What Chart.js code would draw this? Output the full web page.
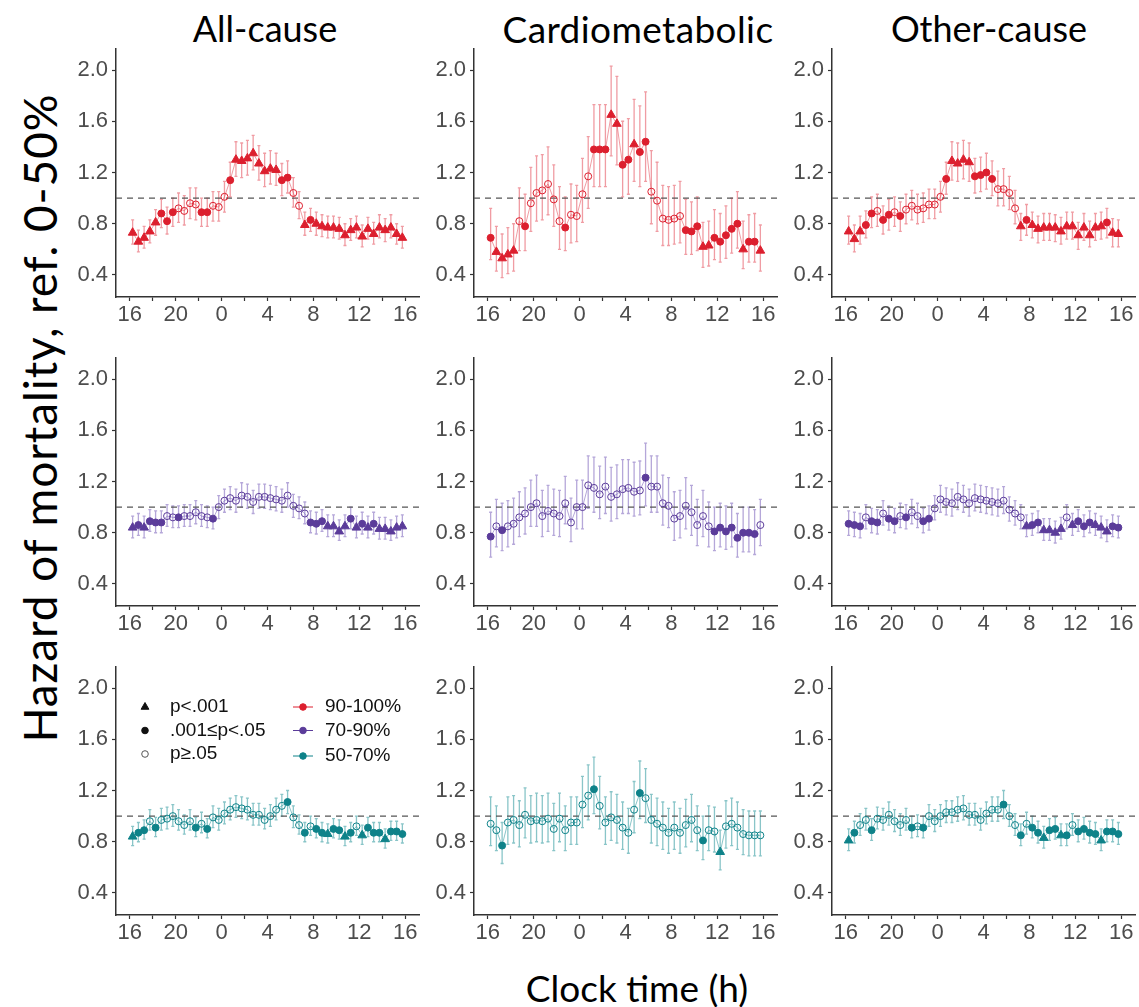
<!DOCTYPE html>
<html>
<head>
<meta charset="utf-8">
<script src="https://cdn.jsdelivr.net/npm/chart.js@4.4.0/dist/chart.umd.min.js"></script>
<style>
body{margin:0;background:#fff;}
#fig{position:relative;width:1139px;height:1007px;overflow:hidden;font-family:Lato,"Open Sans",sans-serif;}
#fig canvas{position:absolute;}
.ttl{position:absolute;color:#000;white-space:nowrap;transform:translate(-50%,-50%);}
</style>
</head>
<body>
<div id="fig">
  <div class="ttl" style="left:265px;top:28px;font-size:36px">All-cause</div>
  <div class="ttl" style="left:638px;top:28px;font-size:37px;letter-spacing:0.4px">Cardiometabolic</div>
  <div class="ttl" style="left:989px;top:28px;font-size:36px">Other-cause</div>
  <div class="ttl" style="left:637px;top:987px;font-size:37px">Clock time (h)</div>
  <div class="ttl" style="left:39px;top:418px;font-size:46px;letter-spacing:0.9px;transform:translate(-50%,-50%) rotate(-90deg)">Hazard of mortality, ref. 0-50%</div>
</div>
<script>
// half-hour bins, hours counted from midnight of the first day (16:15 ... 15:45 next day)
const hours = [16.25,16.75,17.25,17.75,18.25,18.75,19.25,19.75,20.25,20.75,21.25,21.75,
  22.25,22.75,23.25,23.75,24.25,24.75,25.25,25.75,26.25,26.75,27.25,27.75,
  28.25,28.75,29.25,29.75,30.25,30.75,31.25,31.75,32.25,32.75,33.25,33.75,
  34.25,34.75,35.25,35.75,36.25,36.75,37.25,37.75,38.25,38.75,39.25,39.75];
const hourTicks = [16,18,20,22,24,26,28,30,32,34,36,38,40];
const hrTicks = [0.4,0.8,1.2,1.6,2.0];

// T = p<.001, F = .001<=p<.05, O = p>=.05

// 90-100%
const allRed = [0.73,0.66,0.69,0.74,0.81,0.88,0.82,0.89,0.92,0.90,0.96,0.95,0.89,0.89,0.94,0.93,1.01,1.14,1.30,1.29,1.31,1.35,1.27,1.21,1.23,1.22,1.14,1.16,1.04,0.94,0.79,0.83,0.80,0.78,0.77,0.77,0.76,0.71,0.75,0.77,0.70,0.76,0.72,0.77,0.75,0.77,0.72,0.69];
const allRedLo = [0.64,0.58,0.61,0.65,0.71,0.77,0.72,0.78,0.81,0.79,0.84,0.83,0.78,0.78,0.82,0.82,0.89,1.01,1.17,1.16,1.18,1.22,1.14,1.09,1.11,1.10,1.02,1.04,0.93,0.84,0.71,0.74,0.71,0.70,0.69,0.69,0.68,0.63,0.67,0.69,0.62,0.68,0.64,0.69,0.66,0.69,0.64,0.61];
const allRedHi = [0.83,0.75,0.78,0.83,0.91,0.99,0.93,1.00,1.04,1.02,1.08,1.08,1.00,1.00,1.05,1.05,1.13,1.28,1.44,1.43,1.45,1.49,1.41,1.35,1.37,1.35,1.27,1.29,1.16,1.05,0.89,0.92,0.89,0.87,0.86,0.86,0.85,0.80,0.84,0.86,0.79,0.85,0.81,0.87,0.84,0.87,0.80,0.78];
const allRedSig = "TTTTTFFFOOOOFFOOOFTTTTTTTTFFOOTFTTTTTTTTTTTTTTTT";

const cardioRed = [0.69,0.58,0.53,0.56,0.59,0.82,0.78,0.96,1.04,1.06,1.11,0.99,0.82,0.77,0.87,0.86,1.03,1.17,1.38,1.38,1.38,1.65,1.58,1.26,1.30,1.42,1.36,1.44,1.05,0.98,0.84,0.83,0.84,0.86,0.75,0.74,0.78,0.62,0.63,0.69,0.66,0.71,0.76,0.80,0.60,0.66,0.66,0.59];
const cardioRedLo = [0.52,0.43,0.38,0.41,0.43,0.59,0.59,0.74,0.82,0.83,0.87,0.78,0.60,0.59,0.65,0.66,0.81,0.92,1.09,1.09,1.09,1.33,1.26,1.01,1.03,1.13,1.09,1.13,0.80,0.74,0.63,0.63,0.64,0.65,0.56,0.56,0.59,0.46,0.47,0.52,0.50,0.53,0.57,0.61,0.45,0.50,0.50,0.43];
const cardioRedHi = [0.92,0.78,0.72,0.77,0.80,1.08,1.03,1.24,1.33,1.34,1.40,1.26,1.09,1.01,1.11,1.10,1.31,1.48,1.73,1.73,1.73,2.03,1.95,1.60,1.62,1.77,1.72,1.83,1.37,1.28,1.10,1.09,1.10,1.13,0.99,0.97,1.01,0.81,0.82,0.91,0.88,0.94,1.00,1.05,0.82,0.87,0.88,0.79];
const cardioRedSig = "FTTTTOFOOOOOOFOOOOFFFTTFFTFFOOOOOOFFFTTFFFFFTFFT";

const otherRed = [0.74,0.68,0.74,0.79,0.88,0.90,0.83,0.87,0.89,0.86,0.91,0.94,0.91,0.92,0.95,0.95,1.01,1.15,1.29,1.27,1.30,1.28,1.17,1.18,1.20,1.15,1.07,1.07,1.04,0.92,0.78,0.83,0.79,0.76,0.77,0.77,0.77,0.74,0.78,0.78,0.71,0.77,0.71,0.77,0.78,0.81,0.73,0.72];
const otherRedLo = [0.64,0.58,0.64,0.69,0.77,0.78,0.72,0.75,0.78,0.74,0.80,0.83,0.80,0.81,0.84,0.84,0.89,1.03,1.14,1.13,1.15,1.13,1.04,1.05,1.07,1.02,0.94,0.94,0.91,0.80,0.67,0.71,0.69,0.65,0.67,0.67,0.66,0.64,0.68,0.68,0.60,0.67,0.62,0.67,0.68,0.69,0.62,0.62];
const otherRedHi = [0.86,0.79,0.86,0.90,1.01,1.03,0.94,0.99,1.01,0.97,1.03,1.06,1.03,1.04,1.07,1.07,1.13,1.28,1.44,1.43,1.45,1.43,1.31,1.32,1.35,1.29,1.21,1.23,1.17,1.06,0.88,0.95,0.89,0.86,0.88,0.88,0.87,0.85,0.89,0.89,0.81,0.88,0.82,0.88,0.89,0.92,0.84,0.83];
const otherRedSig = "TTTFFOFFOFOOOOOOOFTTTTFFFFOOOOTFTTTTTTTTTTTTTFTT";

// 70-90%
const allPurple = [0.84,0.86,0.84,0.89,0.88,0.88,0.93,0.92,0.92,0.93,0.93,0.96,0.93,0.92,0.91,1.00,1.05,1.07,1.05,1.09,1.08,1.04,1.08,1.08,1.07,1.06,1.05,1.09,1.01,0.99,0.95,0.88,0.87,0.89,0.85,0.85,0.81,0.85,0.91,0.84,0.87,0.84,0.87,0.83,0.83,0.81,0.84,0.85];
const allPurpleLo = [0.76,0.78,0.76,0.81,0.80,0.80,0.85,0.84,0.84,0.85,0.85,0.87,0.85,0.84,0.83,0.91,0.96,0.98,0.96,1.00,0.99,0.95,0.99,0.99,0.98,0.97,0.96,1.00,0.92,0.91,0.87,0.80,0.79,0.81,0.77,0.77,0.74,0.77,0.83,0.76,0.79,0.76,0.79,0.75,0.75,0.74,0.76,0.77];
const allPurpleHi = [0.93,0.95,0.93,0.98,0.97,0.97,1.02,1.01,1.01,1.02,1.02,1.05,1.02,1.01,1.00,1.09,1.14,1.16,1.14,1.19,1.18,1.13,1.18,1.18,1.17,1.16,1.14,1.19,1.10,1.08,1.04,0.97,0.96,0.98,0.94,0.94,0.90,0.94,1.00,0.93,0.96,0.93,0.96,0.92,0.92,0.90,0.93,0.94];
const allPurpleSig = "TFTFFFOOFOOOOOFOOOOOOOOOOOOOOOOFFFTTTTFTFTFTTTTT";

const cardioPurple = [0.77,0.85,0.82,0.85,0.87,0.92,0.95,1.00,1.03,0.93,0.97,0.95,0.93,1.03,0.88,1.00,1.00,1.17,1.15,1.10,1.16,1.08,1.10,1.14,1.15,1.12,1.13,1.23,1.16,1.16,1.03,1.01,0.91,0.93,1.01,0.96,0.86,0.93,0.85,0.81,0.84,0.81,0.84,0.76,0.80,0.80,0.79,0.86];
const cardioPurpleLo = [0.61,0.69,0.66,0.69,0.71,0.77,0.79,0.85,0.85,0.77,0.81,0.78,0.77,0.87,0.73,0.83,0.83,0.99,0.96,0.91,0.95,0.89,0.91,0.95,0.95,0.93,0.94,1.01,0.96,0.96,0.86,0.84,0.74,0.76,0.83,0.78,0.70,0.77,0.69,0.66,0.69,0.67,0.69,0.61,0.65,0.65,0.63,0.70];
const cardioPurpleHi = [0.96,1.06,1.03,1.05,1.07,1.12,1.15,1.21,1.25,1.13,1.17,1.14,1.13,1.24,1.07,1.21,1.21,1.40,1.39,1.32,1.39,1.31,1.33,1.37,1.37,1.35,1.36,1.50,1.40,1.40,1.25,1.23,1.12,1.13,1.23,1.17,1.06,1.13,1.04,1.00,1.03,1.01,1.03,0.95,1.00,1.00,0.98,1.06];
const cardioPurpleSig = "FOFOOOOOOOOOOOOOOOOOOOOOOOOFOOOOOOOOOOOFFFFFFFFO";

const otherPurple = [0.87,0.86,0.85,0.92,0.89,0.88,0.95,0.91,0.89,0.93,0.92,0.96,0.93,0.89,0.91,0.99,1.06,1.04,1.03,1.08,1.06,1.03,1.07,1.06,1.05,1.04,1.03,1.05,0.98,0.95,0.92,0.85,0.86,0.88,0.82,0.82,0.80,0.83,0.92,0.86,0.89,0.85,0.88,0.86,0.84,0.81,0.85,0.84];
const otherPurpleLo = [0.78,0.77,0.76,0.83,0.80,0.79,0.86,0.82,0.80,0.84,0.83,0.87,0.84,0.80,0.82,0.90,0.96,0.94,0.93,0.98,0.96,0.93,0.97,0.96,0.95,0.94,0.93,0.95,0.89,0.86,0.83,0.77,0.78,0.80,0.74,0.74,0.72,0.75,0.83,0.78,0.81,0.77,0.80,0.78,0.76,0.73,0.77,0.76];
const otherPurpleHi = [0.97,0.96,0.95,1.02,0.99,0.98,1.05,1.01,0.99,1.03,1.02,1.06,1.03,0.99,1.01,1.09,1.17,1.15,1.14,1.19,1.17,1.14,1.18,1.17,1.16,1.15,1.14,1.16,1.08,1.05,1.02,0.94,0.95,0.97,0.91,0.91,0.89,0.92,1.02,0.95,0.98,0.94,0.97,0.95,0.93,0.90,0.94,0.93];
const otherPurpleSig = "FFFOFFOFFOFOOFFOOOOOOOOOOOOOOOOTFFTTTTOTFFFTTTFF";

// 50-70%
const allTeal = [0.84,0.87,0.89,0.96,0.91,0.97,0.98,1.00,0.96,0.93,0.96,0.91,0.94,0.90,0.99,0.97,1.02,1.05,1.07,1.06,1.05,1.01,1.01,0.97,1.00,1.05,1.08,1.11,0.99,0.93,0.87,0.92,0.90,0.87,0.86,0.90,0.89,0.84,0.87,0.92,0.85,0.91,0.87,0.87,0.82,0.88,0.88,0.86];
const allTealLo = [0.77,0.80,0.82,0.89,0.84,0.89,0.90,0.92,0.89,0.86,0.89,0.84,0.87,0.83,0.91,0.89,0.94,0.97,0.99,0.98,0.97,0.93,0.93,0.90,0.92,0.97,1.00,1.02,0.91,0.86,0.80,0.85,0.83,0.80,0.79,0.83,0.82,0.77,0.80,0.85,0.78,0.84,0.80,0.80,0.75,0.81,0.81,0.79];
const allTealHi = [0.92,0.95,0.97,1.05,0.99,1.06,1.07,1.09,1.05,1.01,1.05,0.99,1.03,0.98,1.08,1.06,1.11,1.14,1.16,1.15,1.14,1.10,1.10,1.06,1.09,1.14,1.17,1.20,1.08,1.01,0.95,1.00,0.98,0.95,0.94,0.98,0.97,0.92,0.95,1.00,0.93,0.99,0.95,0.95,0.90,0.96,0.96,0.94];
const allTealSig = "TFFOFOOOOOOFOFOOOOOOOOOOOOOFOOFOFFTFFTFOTFFFTFFF";

const cardioTeal = [0.94,0.89,0.77,0.95,0.97,0.93,1.01,0.96,0.97,0.96,0.98,0.90,0.98,0.89,0.95,0.95,1.09,1.16,1.21,1.08,0.95,0.99,0.97,0.91,0.87,1.05,1.18,1.14,0.97,0.94,0.91,0.87,0.91,0.87,0.93,0.97,0.89,0.81,0.89,0.88,0.72,0.92,0.94,0.91,0.86,0.85,0.85,0.85];
const cardioTealLo = [0.77,0.73,0.63,0.78,0.79,0.76,0.83,0.79,0.80,0.79,0.80,0.73,0.80,0.73,0.78,0.78,0.91,0.97,1.02,0.90,0.78,0.81,0.79,0.74,0.71,0.87,0.98,0.95,0.79,0.77,0.74,0.71,0.74,0.71,0.76,0.80,0.73,0.66,0.73,0.72,0.58,0.75,0.77,0.74,0.70,0.69,0.69,0.69];
const cardioTealHi = [1.15,1.08,0.95,1.15,1.16,1.12,1.22,1.16,1.18,1.16,1.18,1.10,1.18,1.08,1.15,1.15,1.31,1.40,1.46,1.31,1.15,1.19,1.17,1.11,1.06,1.27,1.43,1.37,1.17,1.14,1.11,1.06,1.11,1.06,1.13,1.17,1.08,1.00,1.08,1.07,0.89,1.12,1.14,1.11,1.05,1.04,1.04,1.04];
const cardioTealSig = "OOFOOOOOOOOOOOOOOOFOOOOOOOFOOOOOOOOOOFOOTOOOOOOO";

const otherTeal = [0.81,0.87,0.93,0.97,0.89,0.98,0.97,1.01,0.96,0.93,0.97,0.91,0.92,0.91,1.00,0.96,1.00,1.03,1.03,1.05,1.06,1.01,1.01,0.97,1.02,1.05,1.05,1.09,1.00,0.93,0.85,0.94,0.91,0.87,0.83,0.89,0.90,0.85,0.85,0.93,0.88,0.90,0.87,0.86,0.81,0.88,0.88,0.86];
const otherTealLo = [0.73,0.79,0.85,0.89,0.81,0.90,0.89,0.93,0.88,0.85,0.89,0.83,0.84,0.83,0.92,0.88,0.92,0.95,0.95,0.96,0.97,0.93,0.93,0.89,0.94,0.96,0.96,0.98,0.92,0.85,0.77,0.86,0.83,0.79,0.75,0.81,0.82,0.77,0.77,0.85,0.80,0.82,0.79,0.78,0.73,0.80,0.80,0.78];
const otherTealHi = [0.90,0.96,1.02,1.06,0.98,1.07,1.06,1.11,1.05,1.02,1.06,1.00,1.01,1.00,1.09,1.05,1.09,1.12,1.12,1.15,1.16,1.10,1.10,1.06,1.11,1.15,1.15,1.20,1.09,1.02,0.94,1.03,1.00,0.96,0.92,0.98,0.99,0.94,0.94,1.02,0.97,0.99,0.96,0.95,0.90,0.97,0.97,0.95];
const otherTealSig = "TFOOFOOOOOOFOFOOOOOOOOOOOOOFOOFOFFTFFTFOFFFFTFFF";

const groupLabels = ["90-100%", "70-90%", "50-70%"];
const sigLabels = ["p<.001", ".001\u2264p<.05", "p\u2265.05"];

const red = "#DC1F2E", purple = "#5B3C9A", teal = "#0E8289";
const redLight = "rgba(230,90,102,0.6)", purpleLight = "rgba(120,95,185,0.55)", tealLight = "rgba(40,150,155,0.55)";

const panels = [
  [allRed, allRedLo, allRedHi, allRedSig, red, redLight],
  [cardioRed, cardioRedLo, cardioRedHi, cardioRedSig, red, redLight],
  [otherRed, otherRedLo, otherRedHi, otherRedSig, red, redLight],
  [allPurple, allPurpleLo, allPurpleHi, allPurpleSig, purple, purpleLight],
  [cardioPurple, cardioPurpleLo, cardioPurpleHi, cardioPurpleSig, purple, purpleLight],
  [otherPurple, otherPurpleLo, otherPurpleHi, otherPurpleSig, purple, purpleLight],
  [allTeal, allTealLo, allTealHi, allTealSig, teal, tealLight],
  [cardioTeal, cardioTealLo, cardioTealHi, cardioTealSig, teal, tealLight],
  [otherTeal, otherTealLo, otherTealHi, otherTealSig, teal, tealLight]
];

const colLeft = [116, 474, 832];
const rowTop = [49, 358, 667];
// top padding must exceed the y scale's own label padding (~15px) so the plot area lands where we want it
const yAxisW = 60, xAxisH = 40, padTop = 18, padRight = 4;
const areaW = 303, areaH = 248;

const tickFont = {family: "'Liberation Sans', Arial, sans-serif", size: 22};

// vertical CI bars with small caps, drawn under the points
const errorBars = {
  id: "errorBars",
  beforeDatasetsDraw(chart) {
    const ds = chart.data.datasets[0];
    const xs = chart.scales.x, ys = chart.scales.y, ctx = chart.ctx;
    ctx.save();
    ctx.strokeStyle = ds.barColor;
    ctx.lineWidth = 1.3;
    ds.data.forEach(p => {
      const px = xs.getPixelForValue(p.x);
      const top = ys.getPixelForValue(p.hi), bot = ys.getPixelForValue(p.lo);
      ctx.beginPath();
      ctx.moveTo(px, top); ctx.lineTo(px, bot);
      ctx.moveTo(px - 1.5, top); ctx.lineTo(px + 1.5, top);
      ctx.moveTo(px - 1.5, bot); ctx.lineTo(px + 1.5, bot);
      ctx.stroke();
    });
    ctx.restore();
  }
};

// legend inside the bottom-left panel
const insideLegend = {
  id: "insideLegend",
  afterDraw(chart) {
    const ctx = chart.ctx, a = chart.chartArea;
    const x0 = a.left + 29, y0 = a.top + 40, dy = 23.5;
    ctx.save();
    ctx.font = "19px 'Liberation Sans', Arial, sans-serif";
    ctx.textBaseline = "middle";
    const styles = ["triangle", "circle", "circle"];
    sigLabels.forEach((lab, i) => {
      const y = y0 + i * dy;
      ctx.fillStyle = i === 2 ? "rgba(0,0,0,0)" : "#111";
      ctx.strokeStyle = i === 2 ? "#555" : "#111";
      ctx.lineWidth = 1;
      Chart.helpers.drawPoint(ctx, {pointStyle: styles[i], radius: i === 0 ? 4.5 : 3.3, rotation: 0, borderWidth: 1}, x0, y);
      ctx.fillStyle = "#111";
      ctx.fillText(lab, x0 + 25, y);
    });
    const cols = [red, purple, teal];
    groupLabels.forEach((lab, i) => {
      const y = y0 + i * dy + (i === 2 ? 2 : 0);
      const cx = x0 + 158;
      ctx.strokeStyle = cols[i];
      ctx.lineWidth = 1;
      ctx.beginPath(); ctx.moveTo(cx - 10, y); ctx.lineTo(cx + 10, y); ctx.stroke();
      ctx.fillStyle = cols[i];
      Chart.helpers.drawPoint(ctx, {pointStyle: "circle", radius: 3.3, rotation: 0, borderWidth: 1}, cx, y);
      ctx.fillStyle = "#111";
      ctx.fillText(lab, cx + 22, y);
    });
    ctx.restore();
  }
};

const fig = document.getElementById("fig");
panels.forEach((p, k) => {
  const [est, lo, hi, sig, col, light] = p;
  const r = Math.floor(k / 3), c = k % 3;
  const cv = document.createElement("canvas");
  cv.width = yAxisW + areaW + padRight;
  cv.height = padTop + areaH + xAxisH;
  cv.style.left = (colLeft[c] - yAxisW) + "px";
  cv.style.top = (rowTop[r] - padTop) + "px";
  fig.appendChild(cv);
  const codes = sig.split("");
  new Chart(cv, {
    type: "scatter",
    data: {
      datasets: [{
        data: hours.map((h, i) => ({x: h, y: est[i], lo: lo[i], hi: hi[i]})),
        showLine: true,
        borderColor: light,
        borderWidth: 1,
        pointStyle: codes.map(s => s === "T" ? "triangle" : "circle"),
        pointRadius: codes.map(s => s === "T" ? 5 : 3.5),
        pointBackgroundColor: codes.map(s => s === "O" ? "rgba(255,255,255,0)" : col),
        pointBorderColor: col,
        pointBorderWidth: 1,
        barColor: light
      }, {
        data: [{x: 14.8, y: 1}, {x: 41.2, y: 1}],
        showLine: true,
        borderColor: "#555",
        borderWidth: 1.3,
        borderDash: [6, 5],
        pointRadius: 0
      }]
    },
    options: {
      responsive: false,
      animation: false,
      devicePixelRatio: 1,
      layout: {padding: {top: padTop, right: padRight, left: 0, bottom: 0}, autoPadding: false},
      plugins: {legend: {display: false}, tooltip: {enabled: false}},
      scales: {
        x: {
          type: "linear", min: 14.8, max: 41.2,
          afterBuildTicks: s => { s.ticks = hourTicks.map(v => ({value: v})); },
          afterFit: s => { s.height = xAxisH; },
          ticks: {
            autoSkip: false, maxRotation: 0, padding: 1, color: "#4D4D4D", font: tickFont,
            callback: v => (v - 16) % 4 === 0 ? String(v % 24) : ""
          },
          grid: {drawOnChartArea: false, drawTicks: true, tickLength: 4, tickColor: "#333", tickWidth: 1.2},
          border: {display: true, color: "#333", width: 1.5}
        },
        y: {
          min: 0.228, max: 2.164,
          afterBuildTicks: s => { s.ticks = hrTicks.map(v => ({value: v})); },
          afterFit: s => { s.width = yAxisW; },
          ticks: {padding: 4, color: "#4D4D4D", font: tickFont, callback: v => v.toFixed(1)},
          grid: {drawOnChartArea: false, drawTicks: true, tickLength: 4, tickColor: "#333", tickWidth: 1.2},
          border: {display: true, color: "#333", width: 1.5}
        }
      }
    },
    plugins: k === 6 ? [errorBars, insideLegend] : [errorBars]
  });
});
</script>
</body>
</html>
